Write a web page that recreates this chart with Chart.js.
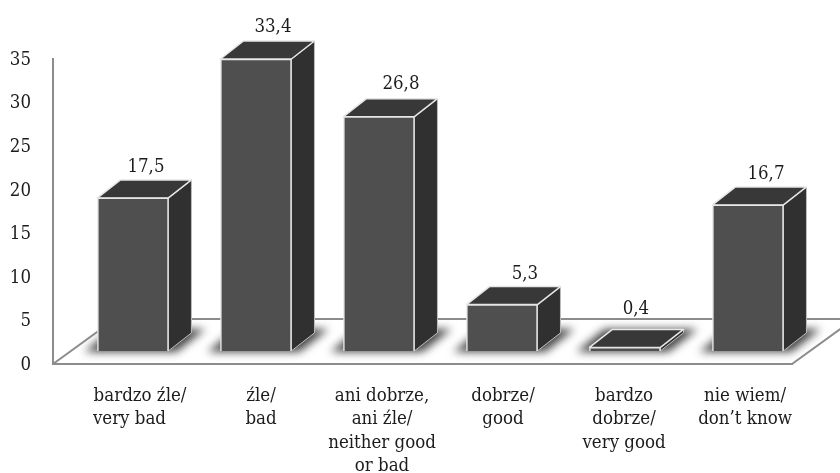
<!DOCTYPE html>
<html>
<head>
<meta charset="utf-8">
<script src="https://cdn.jsdelivr.net/npm/chart.js@4"></script>
<style>
    html, body { margin: 0; padding: 0; background: #fff; }
    #wrap { width: 840px; height: 473px; }
</style>
</head>
<body>
<div id="wrap"><canvas id="chart"></canvas></div>
<script>
const categories = [
    ['bardzo źle/', 'very bad'],
    ['źle/', 'bad'],
    ['ani dobrze,', 'ani źle/', 'neither good', 'or bad'],
    ['dobrze/', 'good'],
    ['bardzo', 'dobrze/', 'very good'],
    ['nie wiem/', 'don\u2019t know']
];
const values = [17.5, 33.4, 26.8, 5.3, 0.4, 16.7];
const yTicks = [0, 5, 10, 15, 20, 25, 30, 35];

// labels whose lines start at the same x instead of being centred
const leftAligned = [0, 1];

const fontFamily = "'DejaVu Serif Condensed', 'Liberation Serif', serif";
const fontSize = 18.5;

const colors = {
    front: '#4f4f4f',
    side: '#303030',
    top: '#383838',
    edge: '#e6e6e6',
    sideEdge: '#bdbdbd',
    axis: '#8c8c8c',
    text: '#1c1c1c',
    shadow: 'rgba(40, 40, 40, 0.85)'
};

// 3D offset of the bars and of the floor
const barDepth = { x: 23, y: -18 };
const floorDepth = { x: 62, y: -45 };

// nudge of each value label, the labels do not sit evenly over the bars
const valueLabelShift = [13, 17, 22, 23, 11, 18];
const valueLabelGap = [13, 14, 14, 12, 20, 13];

// floor, shadows, bar sides and top, drawn behind the native front faces
const bars3d = {
    id: 'bars3d',
    beforeDatasetsDraw(chart) {
        const { ctx, chartArea: area } = chart;
        const bars = chart.getDatasetMeta(0).data;

        ctx.save();
        ctx.strokeStyle = colors.axis;
        ctx.lineWidth = 2;
        ctx.beginPath();
        ctx.moveTo(area.left, area.bottom);
        ctx.lineTo(area.left + floorDepth.x, area.bottom + floorDepth.y);
        ctx.lineTo(chart.width, area.bottom + floorDepth.y);
        ctx.moveTo(area.right, area.bottom);
        ctx.lineTo(area.right + floorDepth.x, area.bottom + floorDepth.y);
        ctx.stroke();

        bars.forEach(bar => {
            const left = bar.x - bar.width / 2;
            const right = bar.x + bar.width / 2;
            const dx = barDepth.x;
            const dy = barDepth.y;

            ctx.save();
            ctx.filter = 'blur(4px)';
            ctx.fillStyle = colors.shadow;
            ctx.beginPath();
            ctx.moveTo(left - 13, bar.base + 1);
            ctx.lineTo(right + 8, bar.base + 1);
            ctx.lineTo(right + dx + 14, bar.base + dy - 4);
            ctx.lineTo(left + dx - 8, bar.base + dy - 4);
            ctx.closePath();
            ctx.fill();
            ctx.restore();

            ctx.lineJoin = 'round';

            // side face, only a thin outline on its outer edges
            ctx.lineWidth = 1;
            ctx.strokeStyle = colors.sideEdge;
            ctx.fillStyle = colors.side;
            ctx.beginPath();
            ctx.moveTo(right, bar.y);
            ctx.lineTo(right + dx, bar.y + dy);
            ctx.lineTo(right + dx, bar.base + dy);
            ctx.lineTo(right, bar.base);
            ctx.closePath();
            ctx.fill();
            ctx.stroke();

            ctx.lineWidth = 1.5;
            ctx.strokeStyle = colors.edge;
            ctx.fillStyle = colors.top;
            ctx.beginPath();
            ctx.moveTo(left, bar.y);
            ctx.lineTo(left + dx, bar.y + dy);
            ctx.lineTo(right + dx, bar.y + dy);
            ctx.lineTo(right, bar.y);
            ctx.closePath();
            ctx.fill();
            ctx.stroke();
        });
        ctx.restore();
    },
    afterDatasetsDraw(chart) {
        const { ctx } = chart;
        const bars = chart.getDatasetMeta(0).data;
        ctx.save();
        ctx.font = fontSize + 'px ' + fontFamily;
        ctx.fillStyle = colors.text;
        ctx.textAlign = 'center';
        ctx.textBaseline = 'middle';
        bars.forEach((bar, i) => {
            const label = String(values[i]).replace('.', ',');
            ctx.fillText(label, bar.x + valueLabelShift[i], bar.y + barDepth.y - valueLabelGap[i]);
        });
        ctx.restore();
    }
};

function tickLines(index) {
    const lines = categories[index];
    if (!leftAligned.includes(index)) return lines;
    // pad short lines with spaces so that centring leaves them flush left
    const ctx = document.getElementById('chart').getContext('2d');
    ctx.save();
    ctx.font = fontSize + 'px ' + fontFamily;
    const widest = Math.max(...lines.map(l => ctx.measureText(l).width));
    const spaceWidth = ctx.measureText(' ').width;
    const padded = lines.map(l => {
        return l + ' '.repeat(Math.round((widest - ctx.measureText(l).width) / spaceWidth));
    });
    ctx.restore();
    return padded;
}

new Chart(document.getElementById('chart'), {
    type: 'bar',
    data: {
        datasets: [{
            data: values.map((v, i) => ({ x: i, y: v })),
            xAxisID: 'xBars',
            yAxisID: 'yBars',
            backgroundColor: colors.front,
            borderColor: colors.edge,
            borderWidth: 1.5,
            barThickness: 71
        }]
    },
    plugins: [bars3d],
    options: {
        responsive: true,
        maintainAspectRatio: false,
        animation: false,
        layout: { padding: { top: 59, right: 48, left: 0, bottom: 0 } },
        plugins: { legend: { display: false }, tooltip: { enabled: false } },
        scales: {
            // bars sit on their own hidden axes: their base is lifted off the floor edge
            xBars: { type: 'linear', axis: 'x', display: false, offset: false, min: -0.65, max: 5.358 },
            yBars: { type: 'linear', axis: 'y', display: false, min: -1.5, max: 33.4 },
            xLabels: {
                type: 'linear',
                axis: 'x',
                position: 'bottom',
                offset: false,
                min: -0.719,
                max: 5.388,
                afterBuildTicks: axis => {
                    axis.ticks = categories.map((c, i) => ({ value: i }));
                },
                afterFit: axis => { axis.height = 109; },
                grid: { display: false, drawTicks: false },
                border: { display: true, color: colors.axis, width: 2 },
                ticks: {
                    autoSkip: false,
                    maxRotation: 0,
                    minRotation: 0,
                    padding: 20,
                    color: colors.text,
                    font: { family: fontFamily, size: fontSize, lineHeight: 1.27 },
                    callback: (value) => tickLines(value)
                }
            },
            y: {
                type: 'linear',
                position: 'left',
                min: 0,
                max: 35,
                afterBuildTicks: axis => {
                    axis.ticks = yTicks.map(v => ({ value: v }));
                },
                afterFit: axis => { axis.width = 53; },
                grid: { display: false, drawTicks: false },
                border: { display: true, color: colors.axis, width: 2 },
                ticks: {
                    padding: 22,
                    labelOffset: 1,
                    color: colors.text,
                    font: { family: fontFamily, size: fontSize }
                }
            }
        }
    }
});
</script>
</body>
</html>
